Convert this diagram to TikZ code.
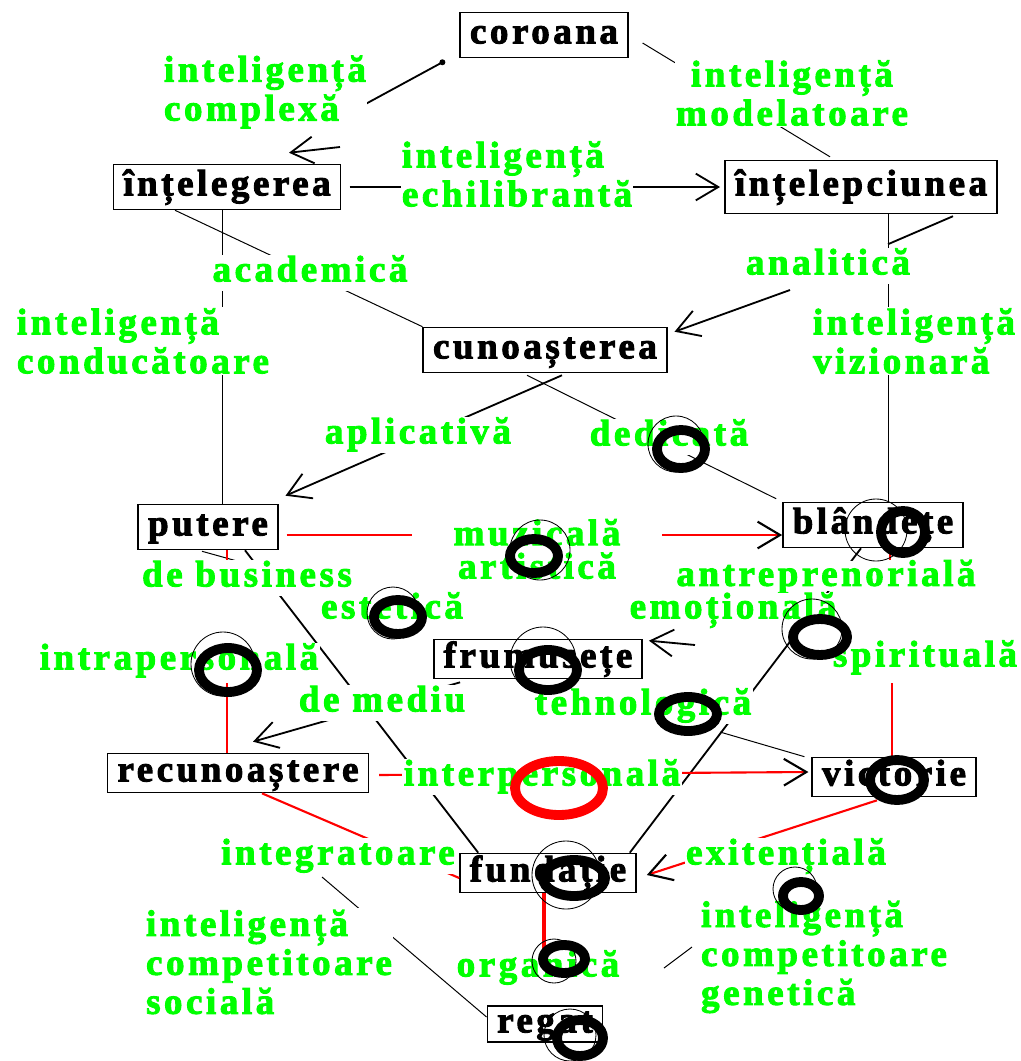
\documentclass[tikz,border=0pt]{standalone}
\usepackage{fontspec}
\setmainfont{Liberation Serif}[LetterSpace=9.6, BoldFont={Liberation Serif Bold}, BoldFeatures={FakeBold=2.5}]
\usepackage{tikz}
\usetikzlibrary{arrows.meta}
\newcommand{\lblfont}{\fontsize{26.3}{27.7}\selectfont\bfseries}
\tikzstyle{box} = [draw, line width=1.1pt, font=\lblfont, inner xsep=7pt, inner ysep=4pt, text height=18pt, text depth=6pt]
\tikzstyle{lbl} = [text=green, fill=white, font=\lblfont, inner sep=1pt, align=left]
\tikzstyle{lbl1} = [lbl, text height=18pt, text depth=6pt]
\tikzstyle{thinline} = [line width=0.7pt]
\tikzstyle{conn} = [line width=1.3pt]
\tikzstyle{redline} = [red, line width=1.5pt]
\tikzstyle{arr} = [-{Straight Barb[length=16pt,width=19pt,black]}]
\tikzstyle{ring} = [line width=7pt]
\tikzstyle{halo} = [line width=0.6pt]

\begin{document}
\begin{tikzpicture}[x=0.025cm, y=-0.025cm]
  \useasboundingbox (0,0) rectangle (1021,1061);

  % Boxes
  \node[box] (coroana) at (544,35) {coroana};
  \node[box] (intelegerea) at (227,187) {înțelegerea};
  \node[box, inner ysep=6.8pt] (intelepciunea) at (861,187) {înțelepciunea};
  \node[box] (cunoasterea) at (545,350) {cunoașterea};
  \node[box] (putere) at (208,527) {putere};
  \node[box] (blandete) at (873,525) {blândețe};
  \node[box, inner ysep=1.9pt] (frumusete) at (538,659) {frumusețe};
  \node[box, inner ysep=1.9pt] (recunoastere) at (238,773) {recunoaștere};
  \node[box, inner ysep=1.9pt] (victorie) at (894,777) {victorie};
  \node[box, inner ysep=1.9pt] (fundatie) at (548,873) {fundație};
  \node[box, inner ysep=0.8pt] (regat) at (545,1024) {regat};

  % Loose ends of the connectors
  \coordinate (c1) at (349,113);
  \coordinate (c2) at (340,147);
  \coordinate (c3) at (790,290);
  \coordinate (c4) at (695,645);
  \coordinate (c5) at (720,732);
  \coordinate (c6) at (892,683);
  \coordinate (c7) at (544,950);
  \coordinate (c8) at (322,877);
  \coordinate (c9) at (664,968);
  \coordinate (c10) at (692,947);
  \coordinate (r1) at (227,683);

  % Black connectors
  \draw[conn] ([shift={(-17,4)}]coroana.south west) -- (c1);
  \fill ([shift={(-17,4)}]coroana.south west) circle (3);
  \draw[conn, arr] (c2) -- ([shift={(62,-11)}]intelegerea.north);
  \draw[thinline] ([shift={(14,8)}]coroana.east) -- ([shift={(-31,-3)}]intelepciunea.north);
  \draw[conn, arr, shorten <=6pt, shorten >=3pt] (intelegerea) -- (intelepciunea);
  \draw[thinline] ([shift={(-52,0)}]intelegerea.south) -- (cunoasterea.north west);
  \draw[thinline] ([shift={(-5,0)}]intelegerea.south) -- ([shift={(14,0)}]putere.north);
  \draw[thinline] ([shift={(27,0)}]intelepciunea.south) -- ([shift={(15,0)}]blandete.north);
  \draw[conn] ([shift={(27,30)}]intelepciunea.south) -- ([shift={(92,2)}]intelepciunea.south);
  \draw[conn, arr] (c3) -- ([shift={(7,5)}]cunoasterea.north east);
  \draw[conn, arr] ([shift={(17,2)}]cunoasterea.south) -- ([shift={(7,-8)}]putere.north east);
  \draw[thinline] ([shift={(-18,2)}]cunoasterea.south) -- ([shift={(-6,-3)}]blandete.north west);
  \draw[conn] ([shift={(37,0)}]putere.south) -- ([shift={(19,0)}]fundatie.north west);
  \draw[thinline] ([shift={(-6,1)}]putere.south) -- ([shift={(30,11)}]putere.south);
  \draw[conn, arr] ([shift={(27,3)}]frumusete.south west) -- ([shift={(15,-11)}]recunoastere.north);
  \draw[conn] ([shift={(-7,0)}]fundatie.north east) -- ([shift={(-12,0)}]blandete.south);
  \draw[conn, arr] (c4) -- ([shift={(6,2)}]frumusete.north east);
  \draw[thinline] (c5) -- ([shift={(-7,0)}]victorie.north west);
  \draw[thinline] (c8) -- ([shift={(0,-7)}]regat.west);
  \draw[thinline] (c9) -- (c10);

  % Red connectors
  \draw[redline, arr] ([shift={(8,8)}]putere.east) -- ([shift={(0,10)}]blandete.west);
  \draw[redline] ([shift={(19,0)}]putere.south) -- ++(0,12);
  \draw[redline] (r1) -- ([shift={(-11,0)}]recunoastere.north);
  \draw[redline, arr] ([shift={(10,2)}]recunoastere.east) -- ([shift={(-3,-5)}]victorie.west);
  \draw[redline] ([shift={(24,0)}]recunoastere.south) -- ([shift={(0,5)}]fundatie.west);
  \draw[redline, arr] ([shift={(-17,3)}]victorie.south) -- ([shift={(10,2)}]fundatie.east);
  \draw[redline] ([shift={(17,0)}]blandete.south) -- ++(0,12);
  \draw[redline] (c6) -- ([shift={(-2,0)}]victorie.north);
  \draw[red, line width=3.5pt] ([shift={(-4,0)}]fundatie.south) -- (c7);

  % Green labels
  \node[lbl] (complexa) at (265,92) {inteligență\\complexă};
  \node[lbl, align=center] (modelatoare) at (792,93) {inteligență\\modelatoare};
  \node[lbl] (echilibranta) at (517,174) {inteligență\\echilibrantă};
  \node[lbl1] (academica) at (310,273) {academică};
  \node[lbl1] (analitica) at (828,266) {analitică};
  \node[lbl] (conducatoare) at (143,341) {inteligență\\conducătoare};
  \node[lbl] (vizionara) at (914,341) {inteligență\\vizionară};
  \node[lbl1] (aplicativa) at (418,435) {aplicativă};
  \node[lbl1] (dedicata) at (669,437) {dedicată};
  \node[lbl, align=center, inner xsep=30pt] (muzicala) at (537,549) {muzicală\\[-4pt]artistică};
  \node[lbl1] (business) at (247,578) {de business};
  \node[lbl1, inner sep=0pt, text depth=4pt] (antreprenoriala) at (826,576) {antreprenorială};
  \node[lbl1, inner sep=0pt] (emotionala) at (733,610) {emoțională};
  \node[lbl1] (estetica) at (392,610) {estetică};
  \node[lbl1] (intrapersonala) at (179,661) {intrapersonală};
  \node[lbl1] (spirituala) at (925,658) {spirituală};
  \node[lbl1] (mediu) at (382,703) {de mediu};
  \node[lbl1] (tehnologica) at (643,706) {tehnologică};
  \node[lbl1] (interpersonala) at (542,777) {interpersonală};
  \node[lbl1] (integratoare) at (338,856) {integratoare};
  \node[lbl1] (exitentiala) at (786,856) {exitențială};
  \node[lbl] (sociala) at (269,962) {inteligență\\competitoare\\socială};
  \node[lbl1] (organica) at (538,968) {organică};
  \node[lbl] (genetica) at (824,957) {inteligență\\competitoare\\genetică};

  % Thin circles behind the rings
  \draw[halo] (676,444) circle (28);
  \draw[halo] (876,530) circle (31);
  \draw[halo] (540,550) circle (30);
  \draw[halo] (393,613) circle (26);
  \draw[halo] (223,664) circle (32);
  \draw[halo] (543,660) circle (33);
  \draw[halo] (812,629) circle (30);
  \draw[halo] (566,875) circle (34);
  \draw[halo] (554,961) circle (22);
  \draw[halo] (795,889) circle (22);
  \draw[halo] (570,1035) circle (26);

  % Rings
  \draw[ring] (681,449) ellipse [x radius=24, y radius=19];
  \draw[ring] (903,532) ellipse [x radius=22, y radius=21];
  \draw[ring] (534,556) ellipse [x radius=24, y radius=17];
  \draw[ring] (398,617) ellipse [x radius=24, y radius=17];
  \draw[ring] (228,670) ellipse [x radius=29, y radius=22];
  \draw[ring] (548,670) ellipse [x radius=29, y radius=20];
  \draw[ring] (820,637) ellipse [x radius=27, y radius=18];
  \draw[ring] (688,714) ellipse [x radius=29, y radius=17];
  \draw[ring] (897,780) ellipse [x radius=27, y radius=20];
  \draw[ring] (574,878) ellipse [x radius=31, y radius=18];
  \draw[ring] (564,959) ellipse [x radius=21, y radius=14];
  \draw[ring] (580,1038) ellipse [x radius=23, y radius=18];
  \draw[ring] (801,896) ellipse [x radius=18, y radius=14];
  \draw[ring, red] (559,788) ellipse [x radius=44, y radius=27];

\end{tikzpicture}
\end{document}
